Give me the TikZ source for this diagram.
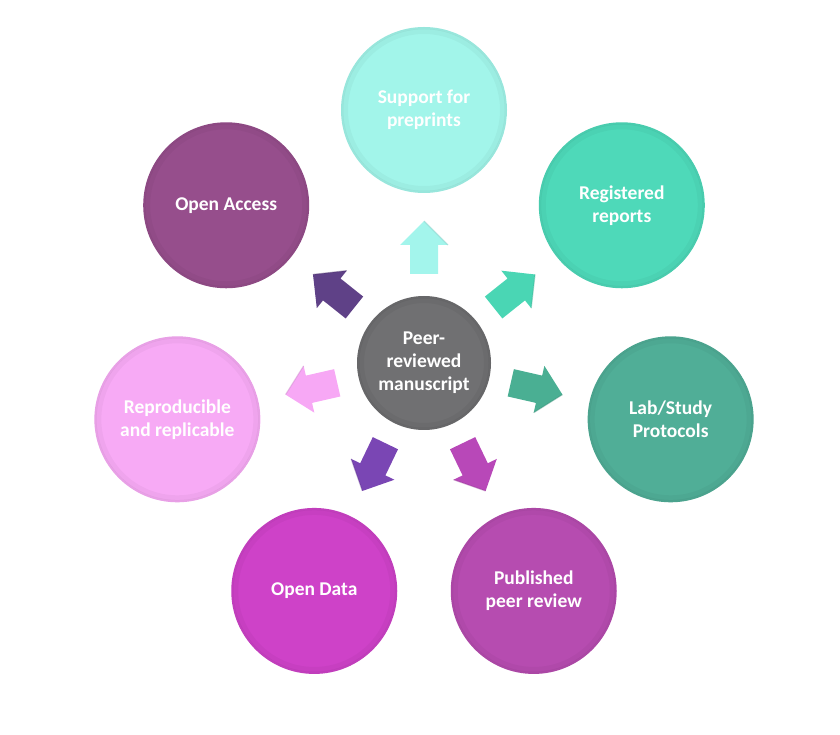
\documentclass[tikz,border=0pt]{standalone}
\usepackage{fontspec}
\setmainfont{Carlito}
\usetikzlibrary{calc}
\definecolor{cSup}{RGB}{162,245,234}
\definecolor{cReg}{RGB}{78,217,185}
\definecolor{cLab}{RGB}{80,174,151}
\definecolor{cPub}{RGB}{182,76,176}
\definecolor{cDat}{RGB}{206,66,200}
\definecolor{cRep}{RGB}{247,170,245}
\definecolor{cAcc}{RGB}{150,78,140}
\definecolor{cMid}{RGB}{112,112,114}
\definecolor{aSup}{RGB}{163,245,236}
\definecolor{aReg}{RGB}{74,214,180}
\definecolor{aLab}{RGB}{74,175,147}
\definecolor{aPub}{RGB}{184,72,184}
\definecolor{aDat}{RGB}{122,70,180}
\definecolor{aRep}{RGB}{247,168,245}
\definecolor{aAcc}{RGB}{95,65,135}
\tikzset{
  bubble/.style={circle, inner sep=0pt, minimum size=166pt, text=white,
    font=\fontsize{19.5}{23}\selectfont\bfseries, align=center,
    path picture={
      \draw[black, opacity=0.06, line width=2.5pt] (path picture bounding box.center) circle (82pt);
      \draw[black, opacity=0.03, line width=5pt] (path picture bounding box.center) circle (78.5pt);
    }},
  hub/.style={bubble, minimum size=134pt,
    path picture={
      \draw[black, opacity=0.08, line width=2.5pt] (path picture bounding box.center) circle (66pt);
      \draw[black, opacity=0.04, line width=5pt] (path picture bounding box.center) circle (62.5pt);
    }},
}
\newcommand{\blockarrow}[2]{%
  \begin{scope}[shift={(c)}, rotate=#1]
    \fill[#2] (89,-14) -- (118,-14) -- (118,-24) -- (142,0) -- (118,24) -- (118,14) -- (89,14) -- cycle;
    \draw[#2!80!black, line width=1.2pt, opacity=0.4] (118,-24) -- (142,0);
  \end{scope}}
\begin{document}
\begin{tikzpicture}[x=1pt,y=1pt]
\useasboundingbox (0,0) rectangle (840,734);
\node[hub, fill=cMid] (c) at (424,371) {Peer-\\reviewed\\manuscript};
\node[bubble, fill=cSup] (sup) at ($(c)+(90:253)$) {Support for\\preprints};
\node[bubble, fill=cReg] (reg) at ($(c)+(38.57:253)$) {Registered\\reports};
\node[bubble, fill=cLab] (lab) at ($(c)+(-12.86:253)$) {Lab/Study\\Protocols};
\node[bubble, fill=cPub] (pub) at ($(c)+(-64.29:253)$) {Published\\peer review};
\node[bubble, fill=cDat] (dat) at ($(c)+(-115.71:253)$) {Open Data};
\node[bubble, fill=cRep] (rep) at ($(c)+(-167.14:253)$) {Reproducible\\and replicable};
\node[bubble, fill=cAcc] (acc) at ($(c)+(141.43:253)$) {Open Access};
\blockarrow{90}{aSup}
\blockarrow{38.57}{aReg}
\blockarrow{-12.86}{aLab}
\blockarrow{-64.29}{aPub}
\blockarrow{-115.71}{aDat}
\blockarrow{-167.14}{aRep}
\blockarrow{141.43}{aAcc}
\end{tikzpicture}
\end{document}
